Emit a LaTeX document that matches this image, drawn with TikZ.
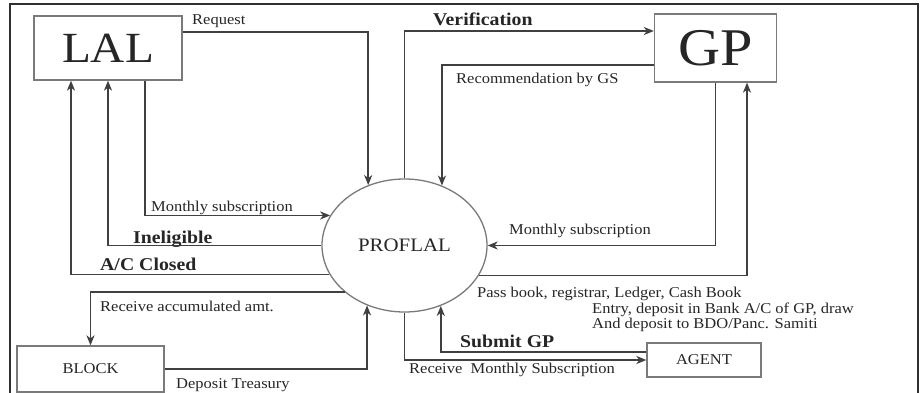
\documentclass[tikz,border=0pt]{standalone}
\usepackage{fontspec}
\setmainfont{Liberation Serif}[FakeStretch=1.1]
\usetikzlibrary{arrows.meta,shapes.geometric}
\definecolor{boxgray}{HTML}{7A7A7A}
\definecolor{linegray}{HTML}{404040}
\definecolor{txt}{HTML}{262626}
\definecolor{framec}{HTML}{303030}
\tikzset{
  box/.style={draw=boxgray, line width=1.3pt, inner sep=0pt, text=txt},
  conn/.style={draw=linegray, line width=1.6pt},
  arr/.style={conn, -{Stealth[length=10pt,width=8pt,inset=3pt]}},
  lbl/.style={anchor=base west, inner sep=0pt, text=txt, font=\fontsize{15}{17}\selectfont},
  blbl/.style={anchor=base west, inner sep=0pt, text=txt, font=\fontsize{18}{20}\selectfont\bfseries},
}
\begin{document}
\begin{tikzpicture}[x=1pt,y=-1pt]
\useasboundingbox (0,0) rectangle (920,393);
\fill[white] (0,0) rectangle (920,393);
% frame
\draw[framec, line width=2.4pt] (10,396) -- (10,4) -- (918,4) -- (918,396);

% nodes
\node[box, minimum width=148pt, minimum height=64pt, font=\fontsize{43}{45}\selectfont] (LAL) at (108,48) {LAL};
\node[box, minimum width=122pt, minimum height=68pt, font=\fontsize{53}{55}\selectfont] (GP) at (715.5,48) {GP};
\node[box, ellipse, minimum width=165pt, minimum height=133pt, font=\fontsize{19}{21}\selectfont] (P) at (404.5,245.5) {PROFLAL};
\node[box, minimum width=147pt, minimum height=46pt, font=\fontsize{15}{17}\selectfont] (BLOCK) at (90.5,369) {BLOCK};
\node[box, minimum width=114pt, minimum height=34pt, font=\fontsize{15}{17}\selectfont] (AGENT) at (704,360) {AGENT};

% connectors
\draw[arr] ([yshift=16pt]LAL.east) -| (P.121.9);
\draw[arr] (P.north) |- ([yshift=17pt]GP.west);
\draw[arr] ([yshift=-17pt]GP.west) -| (P.58.1);
\draw[arr] (GP.south) |- (P.east);
\draw[arr] (P.338.2) -| ([xshift=31.5pt]GP.south);
\draw[arr] ([xshift=37pt]LAL.south) |- (P.158.2);
\draw[arr] (P.west) -| (LAL.south);
\draw[arr] (P.201.8) -| ([xshift=-37pt]LAL.south);
\draw[arr] (P.218.25) -| (BLOCK.north);
\draw[arr] (BLOCK.east) -| (P.238.1);
\draw[arr] (P.south) |- (AGENT.west);
\draw[arr] ([yshift=8pt]AGENT.west) -| (P.301.9);

% labels
\node[lbl] (tReq) at (192,25) {Request};
\node[blbl] (tVer) at (433,26) {Verification};
\node[lbl] (tRec) at (456,84) {Recommendation by GS};
\node[lbl] (tMS1) at (151,211) {Monthly subscription};
\node[blbl] (tIne) at (133,243) {Ineligible};
\node[blbl] (tAC) at (100,270) {A/C Closed};
\node[lbl] (tRA) at (100,311) {Receive accumulated amt.};
\node[lbl] (tDT) at (176,388) {Deposit Treasury};
\node[lbl] (tMS2) at (509,234) {Monthly subscription};
\node[lbl] (tPB1) at (477,297) {Pass book, registrar, Ledger, Cash Book};
\node[lbl] (tPB2) at (592,313) {Entry, deposit in Bank A/C of GP, draw};
\node[lbl] (tPB3) at (592,328) {And deposit to BDO/Panc. Samiti};
\node[blbl] (tSub) at (460,347) {Submit GP};
\node[lbl] (tRMS) at (409,373) {Receive~~Monthly Subscription};
\end{tikzpicture}
\end{document}
